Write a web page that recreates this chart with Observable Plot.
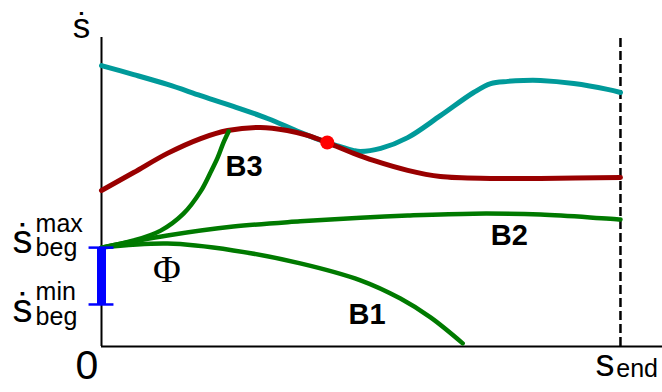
<!DOCTYPE html>
<html>
<head>
<meta charset="utf-8">
<script src="https://cdn.jsdelivr.net/npm/d3@7"></script>
<script src="https://cdn.jsdelivr.net/npm/@observablehq/plot@0.6"></script>
<style>
  html, body { margin: 0; padding: 0; background: #fff; }
  #chart svg { display: block; overflow: visible; }
</style>
</head>
<body>
<div id="chart"></div>
<script>
// Phase-plane sketch: path velocity ṡ against path position s.
// Positions are in units of s_end (x) and of the drawn ṡ range (y).

// Upper limit curve (teal)
const limitS    = [0, 0.062, 0.127, 0.191, 0.254, 0.320, 0.383, 0.435, 0.460, 0.486, 0.499, 0.538, 0.590, 0.653, 0.717, 0.750, 0.783, 0.813, 0.846, 0.910, 0.975, 1.0];
const limitSdot = [0.909, 0.880, 0.848, 0.812, 0.777, 0.738, 0.693, 0.660, 0.647, 0.634, 0.631, 0.641, 0.676, 0.747, 0.822, 0.851, 0.858, 0.861, 0.861, 0.851, 0.832, 0.822];

// Backward-integrated curve (dark red), touching the limit at the switch point
const backS    = [0, 0.062, 0.127, 0.191, 0.243, 0.306, 0.358, 0.397, 0.435, 0.486, 0.524, 0.590, 0.653, 0.750, 0.846, 1.0];
const backSdot = [0.505, 0.563, 0.625, 0.673, 0.699, 0.709, 0.699, 0.683, 0.660, 0.625, 0.602, 0.570, 0.550, 0.544, 0.544, 0.547];

// Forward curves from the start point (green)
const b1S    = [0, 0.127, 0.254, 0.383, 0.499, 0.576, 0.634, 0.696];
const b1Sdot = [0.320, 0.333, 0.311, 0.269, 0.214, 0.155, 0.094, 0.010];
const b2S    = [0, 0.127, 0.254, 0.383, 0.499, 0.590, 0.717, 0.846, 1.0];
const b2Sdot = [0.320, 0.359, 0.388, 0.405, 0.417, 0.424, 0.430, 0.427, 0.411];
const b3S    = [0, 0.062, 0.114, 0.158, 0.191, 0.210, 0.224, 0.235, 0.245];
const b3Sdot = [0.320, 0.343, 0.375, 0.430, 0.502, 0.563, 0.612, 0.660, 0.696];

// Switch point and start-velocity interval
const switchS = 0.435, switchSdot = 0.660;
const sBegMin = 0.136, sBegMax = 0.320;
const sEnd = 1.0;

// Curve labels
const curveNames = ["B1", "B2", "B3"];
const curveLabelS = [0.476, 0.750, 0.239];
const curveLabelSdot = [0.074, 0.327, 0.553];

const rows = (xs, ys) => xs.map((x, i) => ({x, y: ys[i]}));
const labels = curveNames.map((t, i) => ({t, x: curveLabelS[i], y: curveLabelSdot[i]}));

const teal = "#009a9a", darkRed = "#990000", green = "#007a00";
const sans = "Liberation Sans, Arial, sans-serif";
const capHalf = 0.024;

const chart = Plot.plot({
  width: 662,
  height: 392,
  marginLeft: 101,
  marginRight: 0,
  marginTop: 37,
  marginBottom: 46,
  x: {domain: [0, 1.081], axis: null},
  y: {domain: [0, 1], axis: null},
  style: {fontFamily: sans, background: "#fff", overflow: "visible"},
  marks: [
    // axes
    Plot.ruleX([0], {y1: 0, y2: 1, stroke: "#000", strokeWidth: 2}),
    Plot.ruleY([0], {x1: 0, x2: 1.081, stroke: "#000", strokeWidth: 2}),
    // end of path
    Plot.ruleX([sEnd], {y1: 0, y2: 1, stroke: "#000", strokeWidth: 2.5, strokeDasharray: "9,4"}),
    // curves
    Plot.line(rows(limitS, limitSdot), {x: "x", y: "y", stroke: teal, strokeWidth: 5, curve: "catmull-rom"}),
    Plot.line(rows(backS, backSdot), {x: "x", y: "y", stroke: darkRed, strokeWidth: 5, curve: "catmull-rom"}),
    Plot.line(rows(b1S, b1Sdot), {x: "x", y: "y", stroke: green, strokeWidth: 4.5, curve: "catmull-rom"}),
    Plot.line(rows(b2S, b2Sdot), {x: "x", y: "y", stroke: green, strokeWidth: 4.5, curve: "catmull-rom"}),
    Plot.line(rows(b3S, b3Sdot), {x: "x", y: "y", stroke: green, strokeWidth: 4.5, curve: "catmull-rom"}),
    // switch point
    Plot.dot([{x: switchS, y: switchSdot}], {x: "x", y: "y", r: 7, fill: "#ff0000", stroke: "none"}),
    // start-velocity interval
    Plot.ruleX([0], {y1: sBegMin, y2: sBegMax, stroke: "#0000ff", strokeWidth: 9}),
    Plot.ruleY([sBegMin, sBegMax], {x1: -capHalf, x2: capHalf, stroke: "#0000ff", strokeWidth: 2.5}),
    // curve names
    Plot.text(labels, {x: "x", y: "y", text: "t", textAnchor: "start", lineAnchor: "bottom", fontSize: 29, fontWeight: "bold", fill: "#000"}),
    Plot.text(["Φ"], {x: 0.126, y: 0.210, textAnchor: "middle", lineAnchor: "bottom", fontSize: 38, fontFamily: "Liberation Serif, Times New Roman, serif", fill: "#000"}),
    // axis labels
    Plot.text(["ṡ"], {x: -0.0385, y: 1.0, textAnchor: "middle", lineAnchor: "bottom", fontSize: 35, fill: "#000"}),
    Plot.text(["0"], {x: -0.028, y: -0.104, textAnchor: "middle", lineAnchor: "bottom", fontSize: 41, fill: "#000"}),
    Plot.text(["s"], {x: 0.952, y: -0.094, textAnchor: "start", lineAnchor: "bottom", fontSize: 38, fill: "#000"}),
    Plot.text(["end"], {x: 0.992, y: -0.100, textAnchor: "start", lineAnchor: "bottom", fontSize: 25, fill: "#000"}),
    Plot.text(["ṡ"], {x: -0.1715, y: 0.301, textAnchor: "start", lineAnchor: "bottom", fontSize: 40, fill: "#000"}),
    Plot.text(["max"], {x: -0.127, y: 0.372, textAnchor: "start", lineAnchor: "bottom", fontSize: 25, fill: "#000"}),
    Plot.text(["beg"], {x: -0.127, y: 0.294, textAnchor: "start", lineAnchor: "bottom", fontSize: 25, fill: "#000"}),
    Plot.text(["ṡ"], {x: -0.1715, y: 0.078, textAnchor: "start", lineAnchor: "bottom", fontSize: 40, fill: "#000"}),
    Plot.text(["min"], {x: -0.127, y: 0.149, textAnchor: "start", lineAnchor: "bottom", fontSize: 25, fill: "#000"}),
    Plot.text(["beg"], {x: -0.127, y: 0.071, textAnchor: "start", lineAnchor: "bottom", fontSize: 25, fill: "#000"})
  ]
});

document.getElementById("chart").appendChild(chart);
</script>
</body>
</html>
